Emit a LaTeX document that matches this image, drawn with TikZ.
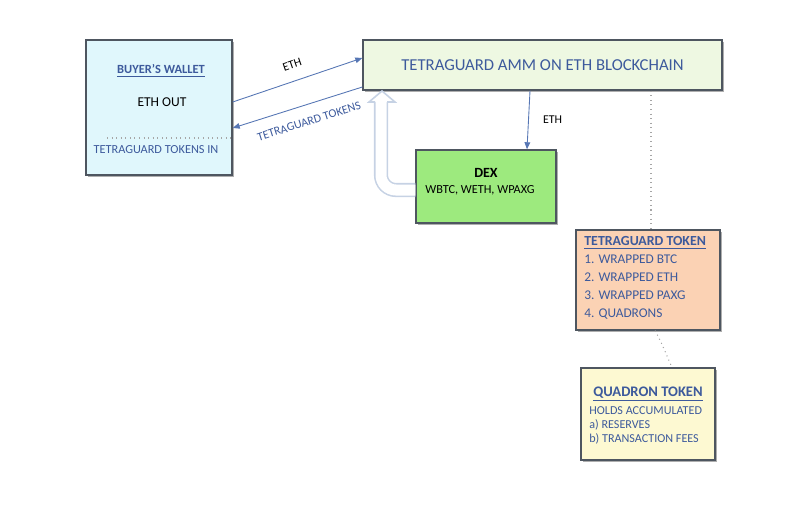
\documentclass[tikz,border=0pt]{standalone}
\usepackage{fontspec}
\setmainfont{Carlito}
\usetikzlibrary{arrows.meta,shadows,positioning}
\definecolor{tgblue}{HTML}{3D5A9C}
\definecolor{linkblue}{HTML}{5676B4}
\definecolor{boxgray}{HTML}{4E5660}
\definecolor{walletfill}{HTML}{E0F7FC}
\definecolor{ammfill}{HTML}{EEF8E2}
\definecolor{dexfill}{HTML}{9DEA7E}
\definecolor{tokenfill}{HTML}{FBD2B4}
\definecolor{quadfill}{HTML}{FDF9D2}
\definecolor{hollowblue}{HTML}{C6D2E4}

\begin{document}
\begin{tikzpicture}[x=0.02cm,y=-0.02cm,
  box/.style={draw=boxgray,line width=0.8pt,inner sep=0pt,
    drop shadow={shadow xshift=1.2pt,shadow yshift=-1.2pt,opacity=0.45,fill=black!70}},
  flow/.style={draw=linkblue,line width=0.5pt,-{Triangle[length=4pt,width=3.2pt]}},
  guide/.style={draw=gray!70,dotted,line width=0.6pt},
  hollow/.style={draw=hollowblue,line width=0.9pt,double=white,double distance=0.22cm},
  lbl/.style={font=\fontsize{6.8}{8}\selectfont,inner sep=1pt}]
  \useasboundingbox (0,0) rectangle (800,505);

  % boxes
  \node[box,fill=walletfill,minimum width=2.92cm,minimum height=2.7cm] (wallet) at (159,107.5) {};
  \node[box,fill=ammfill,minimum width=7.18cm,minimum height=1.0cm,text=tgblue,
        font=\fontsize{9.5}{11}\selectfont] (amm) at (542.5,65) {TETRAGUARD AMM ON ETH BLOCKCHAIN};
  \node[box,fill=dexfill,minimum width=2.8cm,minimum height=1.46cm] (dex) at (486,186.5) {};
  \node[box,fill=tokenfill,minimum width=2.88cm,minimum height=2.0cm] (token) at (648,280) {};
  \node[box,fill=quadfill,minimum width=2.68cm,minimum height=1.84cm] (quad) at (648,414) {};

  % wallet texts
  \node[font=\fontsize{7.1}{8}\selectfont\bfseries,text=tgblue] (wtitle) at (161,71) {\underline{BUYER’S WALLET}};
  \node[font=\fontsize{7.7}{9}\selectfont] (ethout) at (162,102) {ETH OUT};
  \draw[guide] (107,138) -- (wallet.east |- 0,138) ;  % split line
  \node[font=\fontsize{7}{8}\selectfont,text=tgblue] (tokensin) at (156,150) {TETRAGUARD TOKENS IN};

  % dex texts
  \node[font=\fontsize{8}{9}\selectfont\bfseries] (dextitle) at (486,173) {DEX};
  \node[font=\fontsize{7}{8}\selectfont] (dexlist) at (480,190) {WBTC, WETH, WPAXG};

  % token texts
  \node[anchor=north west,align=left,text=tgblue,inner sep=0pt,
        font=\fontsize{7.6}{10.3}\selectfont] (tokenlist) at (584,236)
        {{\fontsize{7.9}{10.3}\selectfont\bfseries\underline{TETRAGUARD TOKEN}}\\1. WRAPPED BTC\\2. WRAPPED ETH\\3. WRAPPED PAXG\\4. QUADRONS};

  % quadron texts
  \node[font=\fontsize{8.3}{9}\selectfont\bfseries,text=tgblue] (quadtitle) at (648,394) {\underline{QUADRON TOKEN}};
  \node[anchor=north west,align=left,text=tgblue,inner sep=0pt,
        font=\fontsize{6.9}{8}\selectfont] (quadlist) at (589,406)
        {HOLDS ACCUMULATED\\a) RESERVES\\b) TRANSACTION FEES};

  % flows
  \draw[flow] ([yshift=0.11cm]wallet.east) -- node[lbl,sloped,above=6pt]{ETH} ([yshift=0.14cm]amm.west);
  \draw[flow,{Triangle[length=4pt,width=3.2pt]}-] ([yshift=-0.41cm]wallet.east)
     -- node[lbl,sloped,below=6pt,text=tgblue,pos=0.55]{TETRAGUARD TOKENS} ([yshift=-0.44cm]amm.west);
  \draw[flow] ([xshift=-0.25cm]amm.south) -- node[lbl,right=7pt]{ETH} ([xshift=0.82cm]dex.north);

  % hollow return arrow
  \coordinate (hbase) at (381,102);
  \draw[hollow,rounded corners=0.3cm] ([yshift=-0.07cm]dex.west) -- (381,190) -- (hbase);
  \fill[white] (369,102) -- (382,91) -- (395,102) -- cycle;
  \draw[hollowblue,line width=0.9pt,line join=miter]
     (375,102) -- (369,102) -- (382,91) -- (395,102) -- (387,102);

  % dotted links
  \draw[guide] ([xshift=0.06cm]token.north |- amm.south) -- ([xshift=0.06cm]token.north);
  \draw[guide] ([xshift=0.14cm]token.south) to[out=-60,in=115] ([xshift=0.48cm]quad.north);
\end{tikzpicture}
\end{document}
